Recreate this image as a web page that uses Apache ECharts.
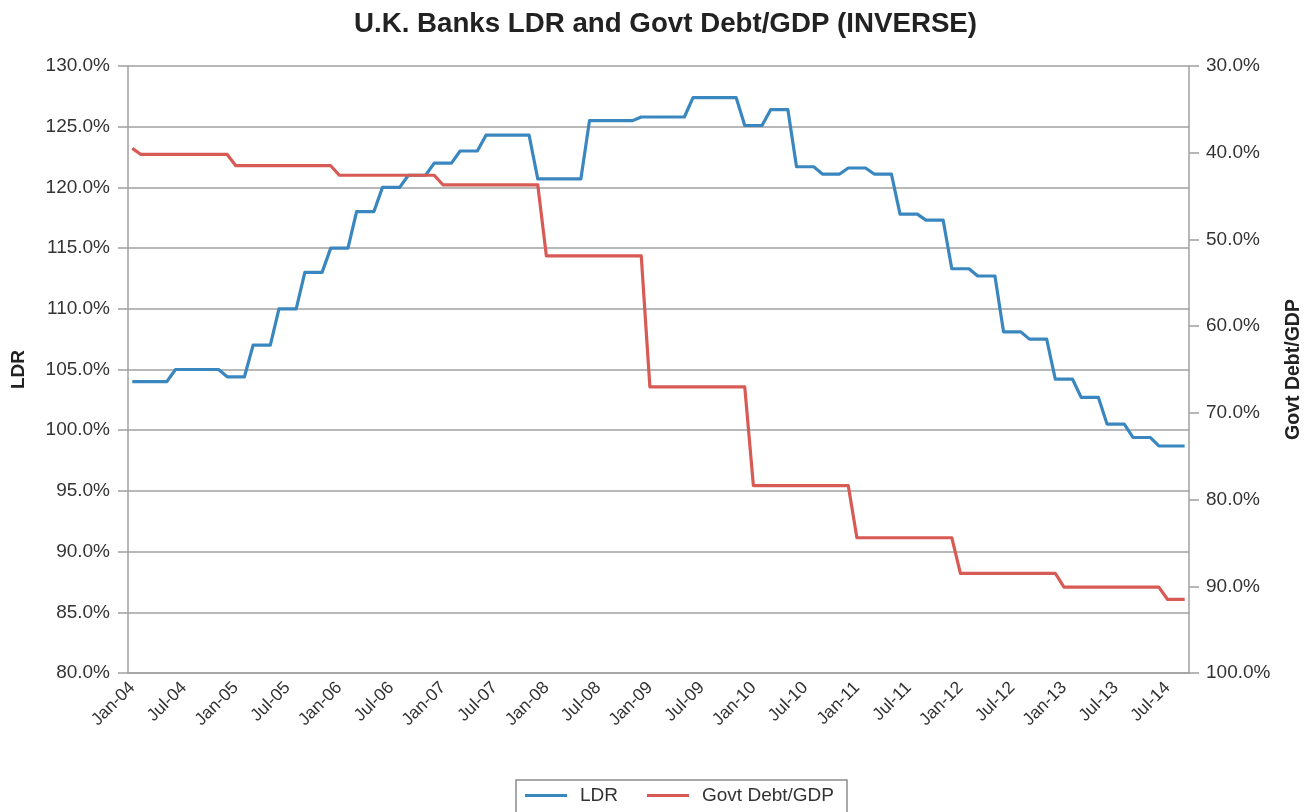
<!DOCTYPE html>
<html>
<head>
<meta charset="utf-8">
<title>U.K. Banks LDR and Govt Debt/GDP</title>
<script src="https://cdn.jsdelivr.net/npm/echarts@6/dist/echarts.min.js"></script>
<style>
  html, body { margin: 0; padding: 0; background: #fff; }
  #chart { width: 1307px; height: 812px; }
</style>
</head>
<body>
<div id="chart"></div>
<script>
// Monthly observations, Jan 2004 onwards (123 months)
const months = [];
for (let y = 2004; y <= 2014; y++) {
  const names = ['Jan','Feb','Mar','Apr','May','Jun','Jul','Aug','Sep','Oct','Nov','Dec'];
  for (let m = 0; m < 12; m++) {
    if (months.length < 123) months.push(names[m] + '-' + String(y).slice(2));
  }
}

// Labels printed under every sixth month tick
const tickLabels = [
  'Jan-04','Jul-04','Jan-05','Jul-05','Jan-06','Jul-06','Jan-07','Jul-07',
  'Jan-08','Jul-08','Jan-09','Jul-09','Jan-10','Jul-10','Jan-11','Jul-11',
  'Jan-12','Jul-12','Jan-13','Jul-13','Jul-14'
];

// Loan-to-deposit ratio, % (left axis)
const ldr = [
  104.0,104.0,104.0,104.0,104.0,105.0,105.0,105.0,105.0,105.0,105.0,104.4,
  104.4,104.4,107.0,107.0,107.0,110.0,110.0,110.0,113.0,113.0,113.0,115.0,
  115.0,115.0,118.0,118.0,118.0,120.0,120.0,120.0,121.0,121.0,121.0,122.0,
  122.0,122.0,123.0,123.0,123.0,124.3,124.3,124.3,124.3,124.3,124.3,120.7,
  120.7,120.7,120.7,120.7,120.7,125.5,125.5,125.5,125.5,125.5,125.5,125.8,
  125.8,125.8,125.8,125.8,125.8,127.4,127.4,127.4,127.4,127.4,127.4,125.1,
  125.1,125.1,126.4,126.4,126.4,121.7,121.7,121.7,121.1,121.1,121.1,121.6,
  121.6,121.6,121.1,121.1,121.1,117.8,117.8,117.8,117.3,117.3,117.3,113.3,
  113.3,113.3,112.7,112.7,112.7,108.1,108.1,108.1,107.5,107.5,107.5,104.2,
  104.2,104.2,102.7,102.7,102.7,100.5,100.5,100.5,99.4,99.4,99.4,98.7,
  98.7,98.7,98.7
];

// Government debt as % of GDP (right axis, inverted)
const debtGdp = [
  39.5,40.2,40.2,40.2,40.2,40.2,40.2,40.2,40.2,40.2,40.2,40.2,
  41.5,41.5,41.5,41.5,41.5,41.5,41.5,41.5,41.5,41.5,41.5,41.5,
  42.6,42.6,42.6,42.6,42.6,42.6,42.6,42.6,42.6,42.6,42.6,42.6,
  43.7,43.7,43.7,43.7,43.7,43.7,43.7,43.7,43.7,43.7,43.7,43.7,
  51.9,51.9,51.9,51.9,51.9,51.9,51.9,51.9,51.9,51.9,51.9,51.9,
  67.0,67.0,67.0,67.0,67.0,67.0,67.0,67.0,67.0,67.0,67.0,67.0,
  78.4,78.4,78.4,78.4,78.4,78.4,78.4,78.4,78.4,78.4,78.4,78.4,
  84.4,84.4,84.4,84.4,84.4,84.4,84.4,84.4,84.4,84.4,84.4,84.4,
  88.5,88.5,88.5,88.5,88.5,88.5,88.5,88.5,88.5,88.5,88.5,88.5,
  90.1,90.1,90.1,90.1,90.1,90.1,90.1,90.1,90.1,90.1,90.1,90.1,
  91.5,91.5,91.5
];

const FONT = '"Liberation Sans", Arial, Helvetica, sans-serif';
const AXIS_GREY = '#a0a0a0';
const TEXT = '#333';

const chart = echarts.init(document.getElementById('chart'), null, { renderer: 'canvas' });

chart.setOption({
  animation: false,
  backgroundColor: '#fff',
  textStyle: { fontFamily: FONT },
  title: {
    text: 'U.K. Banks LDR and Govt Debt/GDP (INVERSE)',
    left: 349,
    top: 5,
    textStyle: { fontFamily: FONT, fontSize: 27.7, fontWeight: 'bold', color: '#222' }
  },
  grid: {
    left: 128, right: 118, top: 66, bottom: 139,
    containLabel: false,
    outerBoundsMode: 'none'
  },
  legend: {
    left: 516,
    top: 780,
    padding: [6, 13, 10, 9],
    borderColor: '#8c8c8c',
    borderWidth: 1.5,
    itemWidth: 42,
    itemHeight: 3,
    itemGap: 29,
    textStyle: { fontFamily: FONT, fontSize: 19, color: TEXT, padding: [0, 0, 0, 8] },
    data: [
      { name: 'LDR', icon: 'rect' },
      { name: 'Govt Debt/GDP', icon: 'rect' }
    ]
  },
  xAxis: {
    type: 'category',
    data: months,
    boundaryGap: true,
    axisLine: { lineStyle: { color: AXIS_GREY, width: 1.5 } },
    axisTick: { interval: 5, length: 10, lineStyle: { color: AXIS_GREY, width: 1.5 } },
    axisLabel: {
      interval: 5,
      rotate: 45,
      margin: 12,
      fontFamily: FONT,
      fontSize: 17.5,
      color: TEXT,
      formatter: (v, idx) => (idx % 6 === 0 ? tickLabels[idx / 6] : '')
    },
    splitLine: { show: false }
  },
  yAxis: [
    {
      type: 'value',
      min: 80,
      max: 130,
      interval: 5,
      position: 'left',
      name: 'LDR',
      nameLocation: 'middle',
      nameGap: 100,
      nameRotate: 90,
      nameTextStyle: { fontFamily: FONT, fontSize: 19, fontWeight: 'bold', color: '#222' },
      axisLine: { show: true, lineStyle: { color: AXIS_GREY, width: 1.5 } },
      axisTick: { show: true, length: 10, lineStyle: { color: AXIS_GREY, width: 1.5 } },
      axisLabel: {
        margin: 18,
        fontFamily: FONT,
        fontSize: 19,
        color: TEXT,
        formatter: v => v.toFixed(1) + '%'
      },
      splitLine: { show: true, lineStyle: { color: AXIS_GREY, width: 1.5 } }
    },
    {
      type: 'value',
      min: 30,
      max: 100,
      interval: 10,
      inverse: true,
      position: 'right',
      name: 'Govt Debt/GDP',
      nameLocation: 'middle',
      nameGap: 95,
      nameRotate: 90,
      nameTextStyle: { fontFamily: FONT, fontSize: 19.5, fontWeight: 'bold', color: '#222' },
      axisLine: { show: true, lineStyle: { color: AXIS_GREY, width: 1.5 } },
      axisTick: { show: true, length: 10, lineStyle: { color: AXIS_GREY, width: 1.5 } },
      axisLabel: {
        margin: 17,
        fontFamily: FONT,
        fontSize: 19,
        color: TEXT,
        formatter: v => v.toFixed(1) + '%'
      },
      splitLine: { show: false }
    }
  ],
  series: [
    {
      name: 'LDR',
      type: 'line',
      yAxisIndex: 0,
      data: ldr,
      symbol: 'none',
      itemStyle: { color: '#3a87c0' },
      lineStyle: { color: '#3a87c0', width: 3.2, join: 'round' },
      z: 3
    },
    {
      name: 'Govt Debt/GDP',
      type: 'line',
      yAxisIndex: 1,
      data: debtGdp,
      symbol: 'none',
      itemStyle: { color: '#d85a55' },
      lineStyle: { color: '#d85a55', width: 3.2, join: 'round' },
      z: 4
    }
  ]
});
</script>
</body>
</html>
